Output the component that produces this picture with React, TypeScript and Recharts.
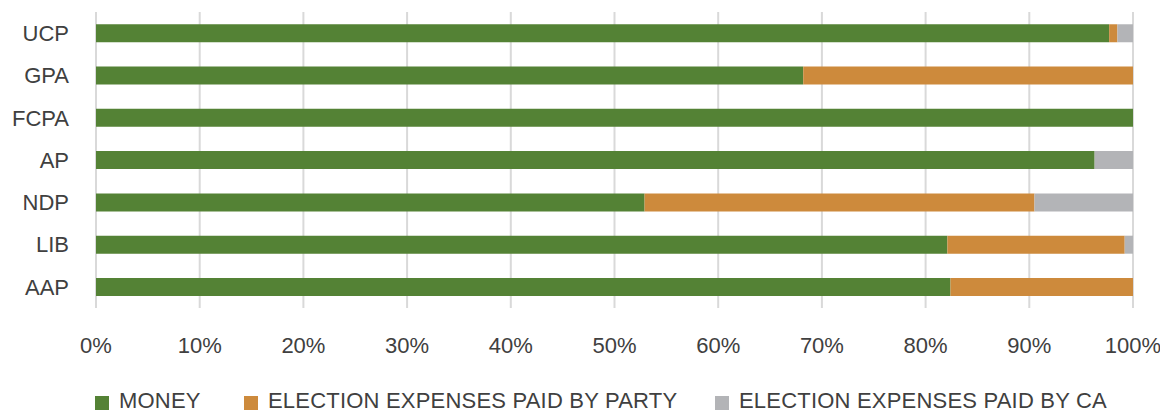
import React from "react";
import { BarChart, Bar, XAxis, YAxis, CartesianGrid, Legend } from "recharts";

const categories = ["UCP", "GPA", "FCPA", "AP", "NDP", "LIB", "AAP"];
const money = [97.7, 68.2, 100, 96.3, 52.9, 82.1, 82.4];
const paidByParty = [0.8, 31.8, 0, 0, 37.6, 17.1, 17.6];
const paidByCA = [1.5, 0, 0, 3.7, 9.5, 0.8, 0];
const xTicks = [0, 0.1, 0.2, 0.3, 0.4, 0.5, 0.6, 0.7, 0.8, 0.9, 1];

const seriesNames = ["MONEY", "ELECTION EXPENSES PAID BY PARTY", "ELECTION EXPENSES PAID BY CA"];
const seriesColors = ["#548235", "#CD8A3C", "#B3B4B7"];
const legendItemWidths = [149, 471, 420];

const data = categories.map((c, i) => ({
  name: c,
  money: money[i],
  party: paidByParty[i],
  ca: paidByCA[i],
}));

const FONT = "'Liberation Sans', Arial, sans-serif";
const TEXT = "#404040";

const renderLegend = (props: any) => {
  const payload = [...(props.payload || [])].sort(
    (a: any, b: any) => seriesNames.indexOf(a.value) - seriesNames.indexOf(b.value)
  );
  return (
    <div
      style={{
        display: "flex",
        alignItems: "center",
        height: 30,
        paddingLeft: 95,
        paddingTop: 9,
        fontFamily: FONT,
        fontSize: 22,
        color: TEXT,
        boxSizing: "border-box",
      }}
    >
      {payload.map((p: any, i: number) => (
        <div
          key={i}
          style={{
            display: "flex",
            alignItems: "center",
            width: legendItemWidths[seriesNames.indexOf(p.value)] ?? 300,
            flex: "none",
          }}
        >
          <span
            style={{
              display: "inline-block",
              width: 14,
              height: 14,
              background: p.color,
              marginRight: 10,
              marginTop: 5,
              flex: "none",
            }}
          />
          <span style={{ lineHeight: "30px", whiteSpace: "nowrap", letterSpacing: 0.2 }}>{p.value}</span>
        </div>
      ))}
    </div>
  );
};

export default function App() {
  return (
    <div style={{ margin: "-8px 0 0 -8px", width: 1168, height: 411, background: "#fff", overflow: "hidden" }}>
      <BarChart
        width={1168}
        height={411}
        data={data}
        layout="vertical"
        stackOffset="expand"
        barCategoryGap="29%"
        margin={{ top: 12, right: 35, bottom: 0, left: 0 }}
      >
        <CartesianGrid horizontal={false} stroke="#D9D9D9" strokeWidth={2} />
        <XAxis
          type="number"
          domain={[0, 1]}
          ticks={xTicks}
          tickFormatter={(v: number) => `${Math.round(v * 100)}%`}
          axisLine={false}
          tickLine={false}
          tickSize={0}
          tickMargin={29}
          height={73}
          interval={0}
          tick={{ fill: TEXT, fontSize: 22, fontFamily: FONT }}
        />
        <YAxis
          type="category"
          dataKey="name"
          width={96}
          axisLine={false}
          tickLine={false}
          tickSize={0}
          tickMargin={27}
          interval={0}
          tick={{ fill: TEXT, fontSize: 22, fontFamily: FONT }}
        />
        <Legend verticalAlign="bottom" align="left" content={renderLegend} height={30} />
        <Bar dataKey="money" name={seriesNames[0]} stackId="a" fill={seriesColors[0]} isAnimationActive={false} />
        <Bar dataKey="party" name={seriesNames[1]} stackId="a" fill={seriesColors[1]} isAnimationActive={false} />
        <Bar dataKey="ca" name={seriesNames[2]} stackId="a" fill={seriesColors[2]} isAnimationActive={false} />
      </BarChart>
    </div>
  );
}
